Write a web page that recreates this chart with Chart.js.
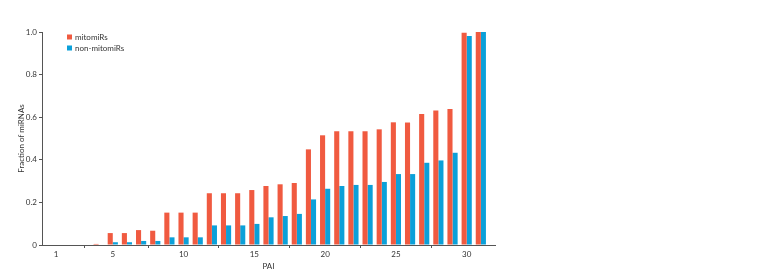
<!DOCTYPE html>
<html>
<head>
<meta charset="utf-8">
<script src="https://cdn.jsdelivr.net/npm/chart.js@4"></script>
<style>
  html, body { margin: 0; padding: 0; background: #fff; }
  #wrap { width: 762px; height: 276px; }
</style>
</head>
<body>
<div id="wrap"><canvas id="paiChart" width="762" height="276"></canvas></div>
<script>
// PAI categories and fractions
var pai = [1, 2, 3, 4, 5, 6, 7, 8, 9, 10, 11, 12, 13, 14, 15, 16,
           17, 18, 19, 20, 21, 22, 23, 24, 25, 26, 27, 28, 29, 30, 31];
var mitomiRs = [0, 0, 0, 0.005, 0.056, 0.056, 0.07, 0.067, 0.152, 0.152, 0.152,
                0.243, 0.243, 0.243, 0.258, 0.277, 0.285, 0.291, 0.449, 0.515,
                0.534, 0.534, 0.534, 0.543, 0.576, 0.575, 0.615, 0.632, 0.638,
                0.996, 1.0];
var nonMitomiRs = [0, 0, 0, 0, 0.013, 0.013, 0.019, 0.019, 0.036, 0.036, 0.036,
                   0.092, 0.092, 0.092, 0.099, 0.13, 0.136, 0.146, 0.214, 0.264,
                   0.277, 0.282, 0.282, 0.296, 0.333, 0.333, 0.386, 0.397, 0.433,
                   0.981, 1.0];
var xTicks = [1, 5, 10, 15, 20, 25, 30];
var yTicks = [0, 0.2, 0.4, 0.6, 0.8, 1.0];

var red = '#f05a40';
var blue = '#0ba0d9';
var axisColor = '#555';
var fontFamily = 'Lato, "Open Sans", sans-serif';

function pts(values) {
    return values.map(function (v, i) { return { x: pai[i], y: v }; });
}

// legend drawn inside the plot, top left
var innerLegend = {
    id: 'innerLegend',
    afterDraw: function (chart) {
        var c = chart.ctx;
        var x0 = chart.chartArea.left + 25;
        var y0 = chart.chartArea.top + 5;
        c.save();
        c.font = '8px ' + fontFamily;
        c.textBaseline = 'middle';
        chart.data.datasets.forEach(function (ds, i) {
            var y = y0 + i * 11;
            c.fillStyle = ds.backgroundColor;
            c.fillRect(x0, y - 2.5, 5, 5);
            c.fillStyle = '#333';
            c.fillText(ds.label, x0 + 8, y);
        });
        c.restore();
    }
};

var ctx = document.getElementById('paiChart').getContext('2d');
var myChart = new Chart(ctx, {
    type: 'bar',
    data: {
        datasets: [{
                label: 'mitomiRs',
                data: pts(mitomiRs),
                backgroundColor: red,
                borderWidth: 0
            },
            {
                label: 'non-mitomiRs',
                data: pts(nonMitomiRs),
                backgroundColor: blue,
                borderWidth: 0
            }
        ]
    },
    options: {
        responsive: false,
        animation: false,
        layout: { padding: { top: 32, right: 267, left: 17, bottom: 0 } },
        datasets: { bar: { categoryPercentage: 0.72, barPercentage: 1.0 } },
        plugins: { legend: { display: false }, tooltip: { enabled: false } },
        scales: {
            x: {
                type: 'linear',
                min: 0,
                max: 32,
                offset: false,
                afterBuildTicks: function (scale) {
                    scale.ticks = xTicks.map(function (v) { return { value: v }; });
                },
                afterFit: function (scale) { scale.height = 31; },
                border: { color: axisColor, width: 1 },
                grid: { drawOnChartArea: false, drawTicks: true, tickLength: 3, color: axisColor },
                ticks: {
                    autoSkip: false,
                    maxRotation: 0,
                    padding: 2,
                    color: '#333',
                    font: { family: fontFamily, size: 8 }
                },
                title: {
                    display: true,
                    text: 'PAI',
                    color: '#333',
                    padding: { top: 0, bottom: 5 },
                    font: { family: fontFamily, size: 8 }
                }
            },
            y: {
                min: 0,
                max: 1,
                afterBuildTicks: function (scale) {
                    scale.ticks = yTicks.map(function (v) { return { value: v }; });
                },
                afterFit: function (scale) { scale.width = 25; },
                border: { color: axisColor, width: 1 },
                grid: { drawOnChartArea: false, drawTicks: true, tickLength: 3, color: axisColor },
                ticks: {
                    padding: 2,
                    color: '#333',
                    font: { family: fontFamily, size: 8 },
                    callback: function (v) { return v === 0 ? '0' : v.toFixed(1); }
                },
                title: {
                    display: true,
                    text: 'Fraction of miRNAs',
                    color: '#333',
                    padding: { top: 0, bottom: 0 },
                    font: { family: fontFamily, size: 8 }
                }
            }
        }
    },
    plugins: [innerLegend]
});
</script>
</body>
</html>
